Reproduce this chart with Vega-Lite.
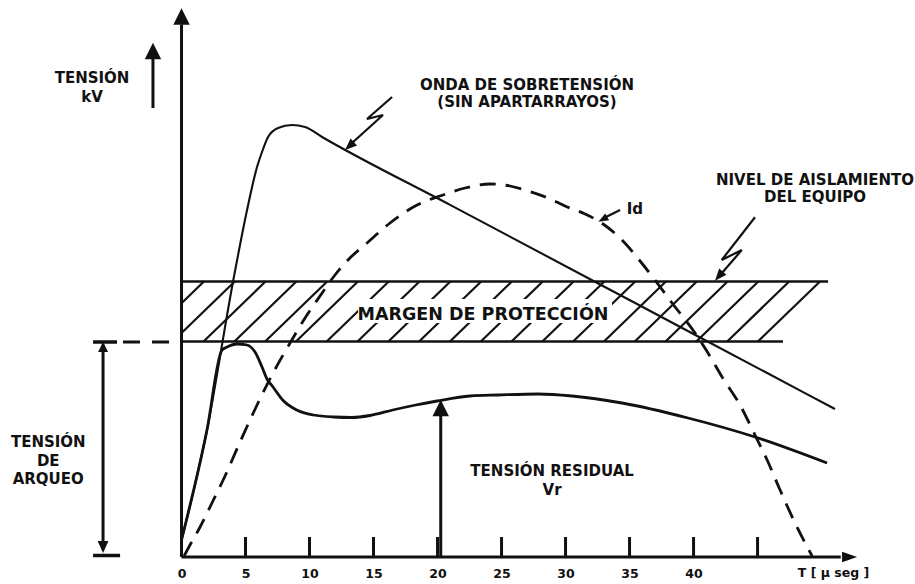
{
  "$schema": "https://vega.github.io/schema/vega-lite/v6.json",
  "width": 915,
  "height": 557,
  "autosize": {"type": "none"},
  "padding": {"left": 0, "top": 0, "right": 0, "bottom": 27},
  "background": "white",
  "config": {"view": {"stroke": null}, "font": "DejaVu Sans"},
  "datasets": {
    "over": [
      {"x": 0, "y": 3.4}, {"x": 1.99, "y": 25.4}, {"x": 4.02, "y": 55.0}, {"x": 5.12, "y": 69.4},
      {"x": 5.9, "y": 78.0}, {"x": 6.29, "y": 81.0}, {"x": 6.76, "y": 84.0}, {"x": 7.54, "y": 85.8},
      {"x": 8.63, "y": 86.4}, {"x": 9.65, "y": 86.0}, {"x": 10.98, "y": 84.0}, {"x": 20.98, "y": 70.42},
      {"x": 32.7, "y": 54.51}, {"x": 40.51, "y": 43.91}, {"x": 51.05, "y": 29.6}
    ],
    "residual": [
      {"x": 0, "y": 3.4}, {"x": 1.99, "y": 25.4}, {"x": 3.16, "y": 41.4}, {"x": 3.56, "y": 42.0}, {"x": 4.34, "y": 42.6},
      {"x": 5.12, "y": 42.4}, {"x": 5.74, "y": 41.0}, {"x": 6.29, "y": 38.0}, {"x": 6.68, "y": 35.6},
      {"x": 7.15, "y": 34.0}, {"x": 7.9, "y": 31.4}, {"x": 9.0, "y": 29.4}, {"x": 10.3, "y": 28.4},
      {"x": 11.9, "y": 28.0}, {"x": 13.3, "y": 27.9}, {"x": 14.73, "y": 28.3}, {"x": 16.5, "y": 29.4},
      {"x": 18.3, "y": 30.4}, {"x": 19.96, "y": 31.2}, {"x": 22.54, "y": 32.2}, {"x": 24.73, "y": 32.4},
      {"x": 27.85, "y": 32.6}, {"x": 30.51, "y": 32.2}, {"x": 34.41, "y": 30.8}, {"x": 39.57, "y": 27.8},
      {"x": 44.8, "y": 24.0}, {"x": 50.43, "y": 18.8}
    ],
    "id": [
      {"x": 0.2, "y": 0.2}, {"x": 0.66, "y": 2.4}, {"x": 1.45, "y": 6.0}, {"x": 2.38, "y": 10.8},
      {"x": 3.4, "y": 16.2}, {"x": 4.57, "y": 23.0}, {"x": 5.9, "y": 30.4}, {"x": 7.15, "y": 36.8},
      {"x": 8.48, "y": 42.8}, {"x": 9.65, "y": 47.8}, {"x": 10.82, "y": 52.2}, {"x": 11.99, "y": 56.4},
      {"x": 13.16, "y": 59.8}, {"x": 14.49, "y": 62.8}, {"x": 16.29, "y": 66.8}, {"x": 18.4, "y": 70.4},
      {"x": 20.43, "y": 72.4}, {"x": 22.15, "y": 73.8}, {"x": 24.1, "y": 74.6}, {"x": 25.66, "y": 74.2},
      {"x": 27.07, "y": 73.2}, {"x": 28.63, "y": 71.8}, {"x": 29.96, "y": 70.2}, {"x": 31.52, "y": 68.6},
      {"x": 32.7, "y": 67.0}, {"x": 34.41, "y": 63.4}, {"x": 35.82, "y": 59.2}, {"x": 36.99, "y": 55.4},
      {"x": 38.32, "y": 50.8}, {"x": 40.12, "y": 44.8}, {"x": 41.13, "y": 40.8}, {"x": 42.23, "y": 36.0},
      {"x": 43.63, "y": 30.4}, {"x": 44.8, "y": 24.4}, {"x": 45.82, "y": 19.0}, {"x": 46.76, "y": 13.4},
      {"x": 47.93, "y": 6.8}, {"x": 49.26, "y": 0.2}
    ],
    "hatch": [
      {"x": 0, "y": 50.76, "x2": 1.75, "y2": 55.1}, {"x": 0, "y": 44.8, "x2": 4.16, "y2": 55.1},
      {"x": 1.72, "y": 43.1, "x2": 6.56, "y2": 55.1}, {"x": 4.13, "y": 43.1, "x2": 8.97, "y2": 55.1},
      {"x": 6.53, "y": 43.1, "x2": 11.38, "y2": 55.1}, {"x": 8.94, "y": 43.1, "x2": 13.78, "y2": 55.1},
      {"x": 11.34, "y": 43.1, "x2": 16.19, "y2": 55.1}, {"x": 13.75, "y": 43.1, "x2": 18.59, "y2": 55.1},
      {"x": 16.16, "y": 43.1, "x2": 21.0, "y2": 55.1}, {"x": 18.56, "y": 43.1, "x2": 23.41, "y2": 55.1},
      {"x": 20.97, "y": 43.1, "x2": 25.81, "y2": 55.1}, {"x": 23.38, "y": 43.1, "x2": 28.22, "y2": 55.1},
      {"x": 25.78, "y": 43.1, "x2": 30.63, "y2": 55.1}, {"x": 28.19, "y": 43.1, "x2": 33.03, "y2": 55.1},
      {"x": 30.59, "y": 43.1, "x2": 35.44, "y2": 55.1}, {"x": 33.0, "y": 43.1, "x2": 37.84, "y2": 55.1},
      {"x": 35.41, "y": 43.1, "x2": 40.25, "y2": 55.1}, {"x": 37.81, "y": 43.1, "x2": 42.66, "y2": 55.1},
      {"x": 40.22, "y": 43.1, "x2": 45.06, "y2": 55.1}, {"x": 42.63, "y": 43.1, "x2": 47.47, "y2": 55.1},
      {"x": 45.03, "y": 43.1, "x2": 49.88, "y2": 55.1}
    ],
    "textBox": [
      {"x": 13.79, "y": 46.8, "x2": 33.63, "y2": 51.6}
    ],
    "band": [
      {"x": 0, "y": 55.1, "x2": 50.51, "y2": 55.1},
      {"x": 0, "y": 43.1, "x2": 46.99, "y2": 43.1}
    ],
    "axes": [
      {"x": 0, "y": 0, "x2": 0, "y2": 106.5},
      {"x": 0, "y": 0, "x2": 51.5, "y2": 0}
    ],
    "ticks": [
      {"x": 5, "y": 0, "x2": 5, "y2": 4}, {"x": 10, "y": 0, "x2": 10, "y2": 4},
      {"x": 15, "y": 0, "x2": 15, "y2": 4}, {"x": 20, "y": 0, "x2": 20, "y2": 4},
      {"x": 25, "y": 0, "x2": 25, "y2": 4}, {"x": 30, "y": 0, "x2": 30, "y2": 4},
      {"x": 35, "y": 0, "x2": 35, "y2": 4}, {"x": 40, "y": 0, "x2": 40, "y2": 4},
      {"x": 45, "y": 0, "x2": 45, "y2": 4}
    ],
    "shafts": [
      {"x": -2.23, "y": 89.8, "x2": -2.23, "y2": 100.0},
      {"x": 20.25, "y": 0, "x2": 20.25, "y2": 29.0},
      {"x": -6.13, "y": 1.5, "x2": -6.13, "y2": 42.5}
    ],
    "bars": [
      {"x": -6.91, "y": 43.0, "x2": -5.04, "y2": 43.0},
      {"x": -6.91, "y": 0.3, "x2": -4.8, "y2": 0.3}
    ],
    "arqueoDash": [
      {"x": -4.57, "y": 43.0, "x2": 0, "y2": 43.0}
    ],
    "bolts": [
      {"g": "b1", "i": 0, "x": 16.45, "y": 92.0}, {"g": "b1", "i": 1, "x": 14.49, "y": 87.6},
      {"g": "b1", "i": 2, "x": 15.74, "y": 88.4}, {"g": "b1", "i": 3, "x": 13.32, "y": 82.8},
      {"g": "b2", "i": 0, "x": 44.8, "y": 67.94}, {"g": "b2", "i": 1, "x": 42.2, "y": 59.4},
      {"g": "b2", "i": 2, "x": 43.77, "y": 61.4}, {"g": "b2", "i": 3, "x": 42.15, "y": 56.6},
      {"g": "id", "i": 0, "x": 34.26, "y": 69.4}, {"g": "id", "i": 1, "x": 33.16, "y": 68.0}
    ],
    "headsUp": [
      {"x": 0, "y": 108.1}, {"x": -2.23, "y": 101.2}, {"x": 20.25, "y": 29.8}
    ],
    "headX": [{"x": 52.19, "y": 0}],
    "headArqTop": [{"x": -6.13, "y": 42.0}],
    "headArqBot": [{"x": -6.13, "y": 2.0}],
    "headB1": [{"x": 13.12, "y": 82.2}],
    "headB2": [{"x": 41.98, "y": 56.16}],
    "headId": [{"x": 32.91, "y": 67.54}],
    "labels": [
      {"text": "TENSIÓN", "x": -6.99, "y": 94.86}, {"text": "kV", "x": -6.99, "y": 91.06},
      {"text": "ONDA DE SOBRETENSIÓN", "x": 26.99, "y": 93.4}, {"text": "(SIN APARTARRAYOS)", "x": 26.99, "y": 90.06},
      {"text": "NIVEL DE AISLAMIENTO", "x": 49.49, "y": 74.4}, {"text": "DEL EQUIPO", "x": 49.49, "y": 71.06},
      {"text": "TENSIÓN RESIDUAL", "x": 28.95, "y": 16.2}, {"text": "Vr", "x": 28.95, "y": 12.4},
      {"text": "TENSIÓN", "x": -10.41, "y": 21.94}, {"text": "DE", "x": -10.41, "y": 18.2},
      {"text": "ARQUEO", "x": -10.41, "y": 14.6}
    ],
    "idLabel": [{"text": "Id", "x": 34.78, "y": 68.7}],
    "margen": [{"text": "MARGEN DE PROTECCIÓN", "x": 23.55, "y": 47.4}],
    "tUnit": [{"text": "T [ μ seg ]", "x": 50.94, "y": -4.0}]
  },
  "encoding": {
    "x": {
      "field": "x", "type": "quantitative",
      "scale": {"domain": [-14.18, 57.3], "nice": false, "zero": false},
      "axis": {
        "values": [0, 5, 10, 15, 20, 25, 30, 35, 40],
        "domain": false, "ticks": false, "tickSize": 0, "grid": false, "title": null,
        "labelFont": "DejaVu Sans", "labelFontWeight": "bold", "labelFontSize": 12.5,
        "labelColor": "#111", "labelBaseline": "alphabetic", "labelPadding": 20,
        "labelFlush": false, "labelOverlap": false
      }
    },
    "y": {
      "field": "y", "type": "quantitative",
      "scale": {"domain": [0, 111.4], "nice": false, "zero": false},
      "axis": null
    }
  },
  "layer": [
    {"data": {"name": "hatch"}, "mark": {"type": "rule", "color": "#111", "strokeWidth": 2.2},
     "encoding": {"x2": {"field": "x2"}, "y2": {"field": "y2"}}},
    {"data": {"name": "textBox"}, "mark": {"type": "rect", "color": "white", "opacity": 1},
     "encoding": {"x2": {"field": "x2"}, "y2": {"field": "y2"}}},
    {"data": {"name": "band"}, "mark": {"type": "rule", "color": "#111", "strokeWidth": 2.6},
     "encoding": {"x2": {"field": "x2"}, "y2": {"field": "y2"}}},
    {"data": {"name": "axes"}, "mark": {"type": "rule", "color": "#111", "strokeWidth": 3},
     "encoding": {"x2": {"field": "x2"}, "y2": {"field": "y2"}}},
    {"data": {"name": "ticks"}, "mark": {"type": "rule", "color": "#111", "strokeWidth": 3},
     "encoding": {"x2": {"field": "x2"}, "y2": {"field": "y2"}}},
    {"data": {"name": "shafts"}, "mark": {"type": "rule", "color": "#111", "strokeWidth": 3},
     "encoding": {"x2": {"field": "x2"}, "y2": {"field": "y2"}}},
    {"data": {"name": "bars"}, "mark": {"type": "rule", "color": "#111", "strokeWidth": 3.5},
     "encoding": {"x2": {"field": "x2"}, "y2": {"field": "y2"}}},
    {"data": {"name": "arqueoDash"}, "mark": {"type": "rule", "color": "#111", "strokeWidth": 3, "strokeDash": [17, 12]},
     "encoding": {"x2": {"field": "x2"}, "y2": {"field": "y2"}}},
    {"data": {"name": "id"}, "mark": {"type": "line", "color": "#111", "strokeWidth": 2.8, "strokeDash": [16, 10], "interpolate": "monotone"},
     "encoding": {}},
    {"data": {"name": "over"}, "mark": {"type": "line", "color": "#111", "strokeWidth": 2.1, "interpolate": "monotone", "strokeJoin": "round"},
     "encoding": {}},
    {"data": {"name": "residual"}, "mark": {"type": "line", "color": "#111", "strokeWidth": 2.8, "interpolate": "monotone", "strokeJoin": "round"},
     "encoding": {}},
    {"data": {"name": "bolts"}, "mark": {"type": "line", "color": "#111", "strokeWidth": 2.2, "strokeJoin": "miter"},
     "encoding": {"detail": {"field": "g"}, "order": {"field": "i", "type": "quantitative"}}},
    {"data": {"name": "headsUp"}, "mark": {"type": "point", "filled": true, "color": "#111", "opacity": 1, "shape": "M0,-1L-1,1L1,1Z", "size": 270}},
    {"data": {"name": "headX"}, "mark": {"type": "point", "filled": true, "color": "#111", "opacity": 1, "shape": "M0,-1L-0.7,1L0.7,1Z", "size": 225, "angle": 90}},
    {"data": {"name": "headArqTop"}, "mark": {"type": "point", "filled": true, "color": "#111", "opacity": 1, "shape": "M0,-1L-1,1L1,1Z", "size": 100}},
    {"data": {"name": "headArqBot"}, "mark": {"type": "point", "filled": true, "color": "#111", "opacity": 1, "shape": "M0,-1L-0.9,1L0.9,1Z", "size": 144, "angle": 180}},
    {"data": {"name": "headB1"}, "mark": {"type": "point", "filled": true, "color": "#111", "opacity": 1, "shape": "M0,-1L-0.8,1L0.8,1Z", "size": 144, "angle": 227}},
    {"data": {"name": "headB2"}, "mark": {"type": "point", "filled": true, "color": "#111", "opacity": 1, "shape": "M0,-1L-0.8,1L0.8,1Z", "size": 144, "angle": 221}},
    {"data": {"name": "headId"}, "mark": {"type": "point", "filled": true, "color": "#111", "opacity": 1, "shape": "M0,-1L-0.8,1L0.8,1Z", "size": 100, "angle": 241}},
    {"data": {"name": "labels"}, "mark": {"type": "text", "font": "DejaVu Sans", "fontWeight": "bold", "fontSize": 15, "align": "center", "baseline": "alphabetic", "color": "#111"},
     "encoding": {"text": {"field": "text"}}},
    {"data": {"name": "idLabel"}, "mark": {"type": "text", "font": "DejaVu Sans", "fontWeight": "bold", "fontSize": 15, "align": "left", "baseline": "alphabetic", "color": "#111"},
     "encoding": {"text": {"field": "text"}}},
    {"data": {"name": "margen"}, "mark": {"type": "text", "font": "DejaVu Sans", "fontWeight": "bold", "fontSize": 17.5, "align": "center", "baseline": "alphabetic", "color": "#111"},
     "encoding": {"text": {"field": "text"}}},
    {"data": {"name": "tUnit"}, "mark": {"type": "text", "font": "DejaVu Sans", "fontWeight": "bold", "fontSize": 12.5, "align": "center", "baseline": "alphabetic", "color": "#111"},
     "encoding": {"text": {"field": "text"}}}
  ]
}
